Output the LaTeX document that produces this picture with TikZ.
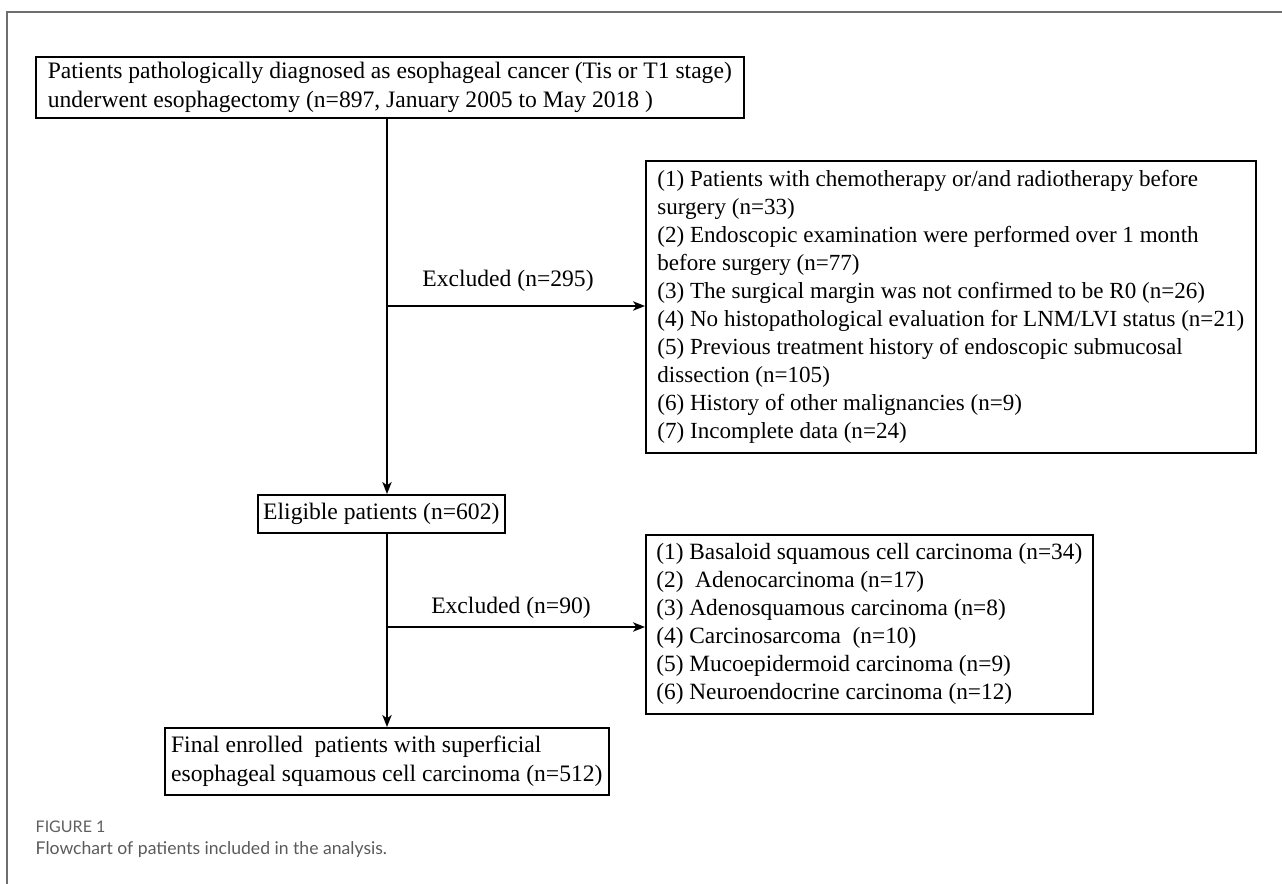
\documentclass[tikz,border=0pt]{standalone}
\usepackage{fontspec}
\setmainfont{Liberation Serif}
\newfontfamily\capfont{Lato}
\usetikzlibrary{arrows.meta}
\definecolor{framegray}{RGB}{110,110,110}
\definecolor{capgray}{RGB}{95,95,95}
\definecolor{captext}{RGB}{90,90,90}
\begin{document}
\begin{tikzpicture}[x=0.75pt,y=-0.75pt,
  box/.style={draw=black, line width=1.2pt, anchor=north west, inner xsep=0pt, inner ysep=0pt,
    font=\fontsize{17.7}{21.75}\selectfont, align=left},
  conn/.style={line width=1.3pt, draw=black},
  arr/.style={conn, -{Stealth[length=9pt,width=7pt,inset=2.5pt]}},
  lbl/.style={font=\fontsize{17.7}{21}\selectfont, anchor=base},
  frameline/.style={draw=framegray, line width=1pt}
]
\useasboundingbox (0,0) rectangle (1282,884);
% outer frame
\coordinate (fTL) at (7,12);
\coordinate (fTR) at (1282,12);
\coordinate (fBL) at (7,884);
\draw[frameline] (fTR) -- (fTL) -- (fBL);

% boxes
\node[box, minimum width=531pt, minimum height=45.75pt] (top) at (35,56)
 {Patients pathologically diagnosed as esophageal cancer (Tis or T1 stage)\\
  underwent esophagectomy (n=897, January 2005 to May 2018 )};

\node[box, minimum width=457.5pt, minimum height=219pt,
      font=\fontsize{17.3}{21}\selectfont] (ex1) at (645,160)
 {(1) Patients with chemotherapy or/and radiotherapy before\\
  surgery (n=33)\\
  (2) Endoscopic examination were performed over 1 month\\
  before surgery (n=77)\\
  (3) The surgical margin was not confirmed to be R0 (n=26)\\
  (4) No histopathological evaluation for LNM/LVI status (n=21)\\
  (5) Previous treatment history of endoscopic submucosal\\
  dissection (n=105)\\
  (6) History of other malignancies (n=9)\\
  (7) Incomplete data (n=24)};

\node[box, align=center, minimum width=185.25pt, minimum height=28.5pt] (elig) at (257,494)
 {Eligible patients (n=602)};

\node[box, minimum width=335.25pt, minimum height=134.25pt,
      font=\fontsize{17.5}{21}\selectfont] (ex2) at (645,534)
 {(1) Basaloid squamous cell carcinoma (n=34)\\
  (2) \ Adenocarcinoma (n=17)\\
  (3) Adenosquamous carcinoma (n=8)\\
  (4) Carcinosarcoma \ (n=10)\\
  (5) Mucoepidermoid carcinoma (n=9)\\
  (6) Neuroendocrine carcinoma (n=12)};

\node[box, minimum width=333pt, minimum height=50.25pt] (final) at (164,727)
 {Final enrolled \ patients with superficial\\
  esophageal squamous cell carcinoma (n=512)};

% trunk
\coordinate (t) at (387,0);
\coordinate (j1) at (387,306);
\coordinate (j2) at (387,627);
\draw[arr] (top.south -| t) -- (elig.north -| t);
\draw[arr] (elig.south -| t) -- (final.north -| t);
\draw[arr] (j1) -- (ex1.west |- j1);
\draw[arr] (j2) -- (ex2.west |- j2);
\node[lbl] (l1) at (508,287) {Excluded (n=295)};
\node[lbl] (l2) at (511,613) {Excluded (n=90)};

% caption
\node[anchor=west, text=capgray, font=\capfont\fontsize{12}{13}\selectfont] (fig) at (31,827) {FIGURE 1};
\node[anchor=west, text=captext, font=\capfont\fontsize{13.2}{15}\selectfont] (cap) at (31,850) {Flowchart of patients included in the analysis.};
\end{tikzpicture}
\end{document}
